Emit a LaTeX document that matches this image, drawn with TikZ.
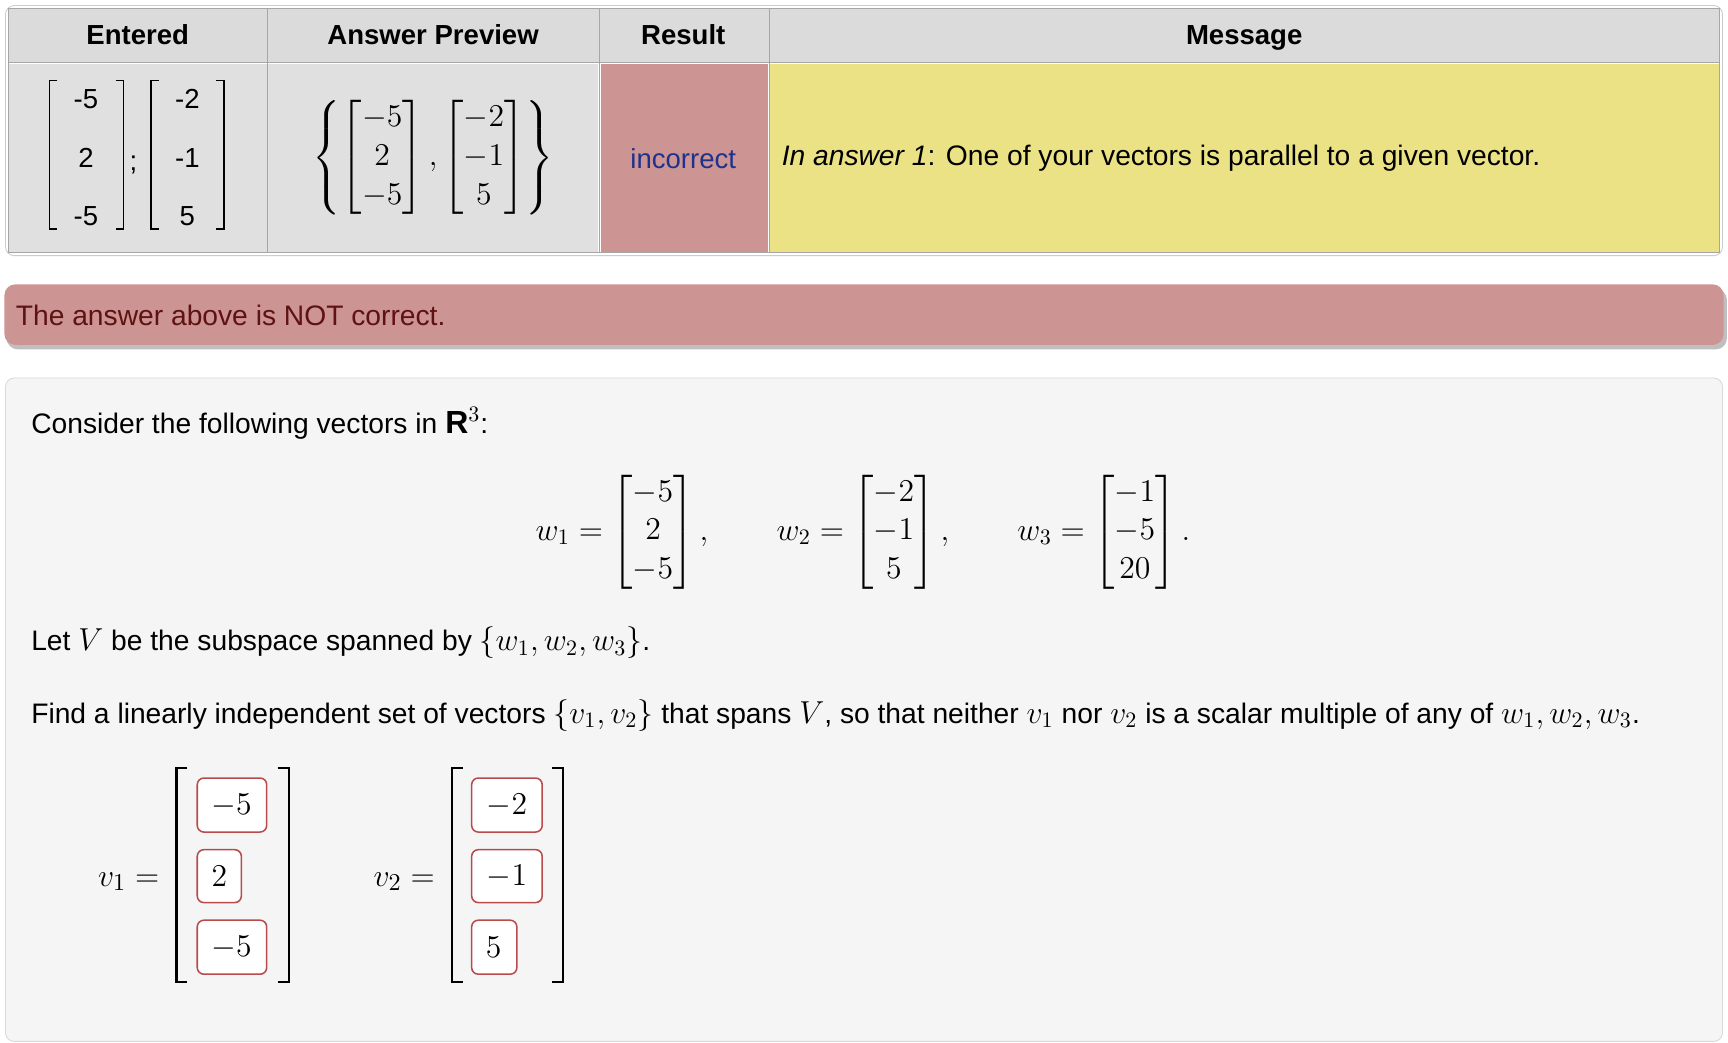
\documentclass[tikz,border=0pt]{standalone}
\usepackage{amsmath}
\usepackage{fontspec}
\setmainfont{Liberation Sans}
\newcommand{\bm}[1]{{\fontsize{14.5}{17}\selectfont$#1$}}
\begin{document}
\begin{tikzpicture}[x=0.5pt,y=-0.5pt,
  txt/.style={anchor=west,inner sep=0pt,font=\fontsize{12.8}{15}\selectfont},
  hdr/.style={inner sep=0pt,font=\fontsize{12.5}{15}\selectfont\bfseries},
  cell/.style={draw=black!35,line width=0.6pt},
  ent/.style={inner sep=0pt,font=\fontsize{12.5}{15}\selectfont},
  brk/.style={line width=0.8pt},
  mth/.style={inner sep=0pt,font=\fontsize{15}{18}\selectfont},
  inp/.style={draw=red!60!black!70,fill=white,rounded corners=3pt,line width=0.7pt},
]
\useasboundingbox (0,0) rectangle (1568,946);
\fill[white] (0,0) rectangle (1568,946);
% table
\draw[black!20,rounded corners=4pt,fill=white] (5,5) rectangle (1563,232);
\fill[black!14] (8,8) rectangle (1560,56);
\fill[black!12] (8,58) rectangle (543,229);
\fill[fill={rgb,255:red,205;green,148;blue,148}] (545,58) rectangle (697,229);
\fill[fill={rgb,255:red,235;green,226;blue,133}] (699,58) rectangle (1560,229);
\draw[cell] (8,8) rectangle (1560,229);
\draw[cell] (8,57)--(1560,57);
\foreach \x in {243,544,698} \draw[cell] (\x,8)--(\x,229);
\node[hdr,anchor=base] (h1) at (125,40) {Entered};
\node[hdr,anchor=base] (h2) at (393,40) {Answer Preview};
\node[hdr,anchor=base] (h3) at (620,40) {Result};
\node[hdr,anchor=base] (h4) at (1129,40) {Message};
% entered
\draw[brk] (52,73)--(45,73)--(45,208)--(52,208);
\draw[brk] (105,73)--(112,73)--(112,208)--(105,208);
\node[ent] (e11) at (78,90) {-5};
\node[ent] (e12) at (78,143) {2};
\node[ent] (e13) at (78,196) {-5};
\node[ent] (es) at (121,150) {;};
\draw[brk] (144,73)--(137,73)--(137,208)--(144,208);
\draw[brk] (196,73)--(203,73)--(203,208)--(196,208);
\node[ent] (e21) at (170,90) {-2};
\node[ent] (e22) at (170,143) {-1};
\node[ent] (e23) at (170,196) {5};
% preview
\node[inner sep=0pt,font=\fontsize{14.5}{17}\selectfont] (pv) at (393,143) {\renewcommand\arraystretch{1.05}$\left\{\begin{bmatrix}-5\\2\\-5\end{bmatrix},\begin{bmatrix}-2\\-1\\5\end{bmatrix}\right\}$};
\node[ent,text={rgb,255:red,30;green,50;blue,140}] (res) at (620,144) {incorrect};
\node[txt] (msg) at (709,144) {\textit{In answer 1}: One of your vectors is parallel to a given vector.};
% alert
\fill[black!25,rounded corners=5pt] (6,262) rectangle (1567,317);
\fill[fill={rgb,255:red,205;green,148;blue,148},rounded corners=5pt] (4,258) rectangle (1564,313);
\node[txt,text={rgb,255:red,95;green,18;blue,18}] (al) at (14,286) {The answer above is NOT correct.};
% problem
\draw[black!15,fill=black!4,rounded corners=4pt] (5,343) rectangle (1563,945);
\node[txt] (p1) at (28,384) {Consider the following vectors in \bm{\mathbf{R}^3}:};
\node[inner sep=0pt,font=\fontsize{14.3}{17}\selectfont] (eq) at (783,483) {\renewcommand\arraystretch{1.02}$w_1=\begin{bmatrix}-5\\2\\-5\end{bmatrix},\qquad w_2=\begin{bmatrix}-2\\-1\\5\end{bmatrix},\qquad w_3=\begin{bmatrix}-1\\-5\\20\end{bmatrix}.$};
\node[txt] (p2) at (28,583) {Let \bm{V} be the subspace spanned by \bm{\{w_1,w_2,w_3\}}.};
\node[txt] (p3) at (28,649) {Find a linearly independent set of vectors \bm{\{v_1,v_2\}} that spans \bm{V}, so that neither \bm{v_1} nor \bm{v_2} is a scalar multiple of any of \bm{w_1,w_2,w_3}.};
% v1
\node[mth,anchor=east] (v1) at (145,800) {$v_1=$};
\draw[brk,line width=1.1pt] (170,697)--(160,697)--(160,891)--(170,891);
\draw[brk,line width=1.1pt] (252,697)--(262,697)--(262,891)--(252,891);
\draw[inp] (179,706) rectangle (242,755); \node[mth] (a1) at (210,731) {$-5$};
\draw[inp] (179,771) rectangle (219,819); \node[mth] (a2) at (199,795) {$2$};
\draw[inp] (179,835) rectangle (242,884); \node[mth] (a3) at (210,860) {$-5$};
% v2
\node[mth,anchor=east] (v2) at (395,800) {$v_2=$};
\draw[brk,line width=1.1pt] (420,697)--(410,697)--(410,891)--(420,891);
\draw[brk,line width=1.1pt] (501,697)--(511,697)--(511,891)--(501,891);
\draw[inp] (428,706) rectangle (492,755); \node[mth] (b1) at (460,731) {$-2$};
\draw[inp] (428,771) rectangle (492,819); \node[mth] (b2) at (460,795) {$-1$};
\draw[inp] (428,835) rectangle (469,884); \node[mth] (b3) at (448,860) {$5$};
\end{tikzpicture}
\end{document}
